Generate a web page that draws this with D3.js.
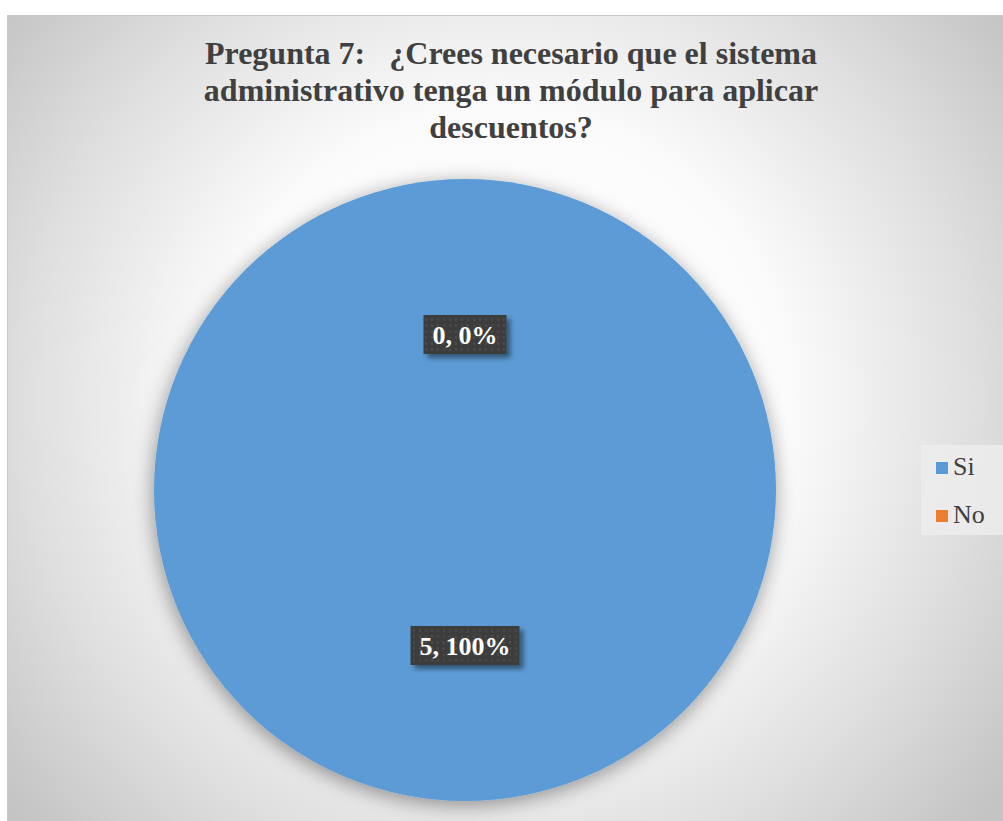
<!DOCTYPE html>
<html>
<head>
<meta charset="utf-8">
<script src="https://cdn.jsdelivr.net/npm/d3@7"></script>
<style>
  html, body { margin: 0; padding: 0; background: #ffffff; }
  svg { display: block; }
</style>
</head>
<body>
<svg id="chart" width="1003" height="821"></svg>
<script>
// Survey answers for question 7
const categories = ["Si", "No"];
const counts = [5, 0];
const colors = ["#5B9BD5", "#ED7D31"];
const titleLines = [
  "Pregunta 7:   ¿Crees necesario que el sistema",
  "administrativo tenga un módulo para aplicar",
  "descuentos?"
];

const svg = d3.select("#chart");
const W = 1003, H = 821;
const defs = svg.append("defs");
const serif = "'Liberation Serif', 'Times New Roman', serif";

// Background: radial gradient, light in the middle and grey toward the corners
const bg = defs.append("radialGradient")
  .attr("id", "bgGrad")
  .attr("gradientUnits", "userSpaceOnUse")
  .attr("cx", 500).attr("cy", 400).attr("r", 640);
bg.append("stop").attr("offset", "0%").attr("stop-color", "#ffffff");
bg.append("stop").attr("offset", "45%").attr("stop-color", "#fbfbfb");
bg.append("stop").attr("offset", "75%").attr("stop-color", "#dedede");
bg.append("stop").attr("offset", "100%").attr("stop-color", "#c3c3c3");

// Soft shadow around the pie
const pieShadow = defs.append("filter").attr("id", "pieShadow")
  .attr("x", "-20%").attr("y", "-20%").attr("width", "140%").attr("height", "140%");
pieShadow.append("feGaussianBlur").attr("in", "SourceAlpha").attr("stdDeviation", 10).attr("result", "b");
pieShadow.append("feOffset").attr("in", "b").attr("dx", -1).attr("dy", 4).attr("result", "o");
pieShadow.append("feComponentTransfer").attr("in", "o").attr("result", "s")
  .append("feFuncA").attr("type", "linear").attr("slope", 0.4);
const pm = pieShadow.append("feMerge");
pm.append("feMergeNode").attr("in", "s");
pm.append("feMergeNode").attr("in", "SourceGraphic");

// Shadow under the data label boxes
const lblShadow = defs.append("filter").attr("id", "lblShadow")
  .attr("x", "-20%").attr("y", "-30%").attr("width", "150%").attr("height", "180%");
lblShadow.append("feGaussianBlur").attr("in", "SourceAlpha").attr("stdDeviation", 2.5).attr("result", "b");
lblShadow.append("feOffset").attr("in", "b").attr("dx", 4).attr("dy", 4).attr("result", "o");
lblShadow.append("feComponentTransfer").attr("in", "o").attr("result", "s")
  .append("feFuncA").attr("type", "linear").attr("slope", 0.45);
const lm = lblShadow.append("feMerge");
lm.append("feMergeNode").attr("in", "s");
lm.append("feMergeNode").attr("in", "SourceGraphic");

// Dotted texture for the label boxes
const dots = defs.append("pattern").attr("id", "dots")
  .attr("patternUnits", "userSpaceOnUse").attr("width", 6).attr("height", 6);
dots.append("rect").attr("width", 6).attr("height", 6).attr("fill", "#3c3c3c");
dots.append("rect").attr("x", 2).attr("y", 2).attr("width", 2).attr("height", 2).attr("fill", "#4d4d4d");

// Chart area
svg.append("rect")
  .attr("x", 7.5).attr("y", 15.5).attr("width", W).attr("height", H)
  .attr("fill", "url(#bgGrad)")
  .attr("stroke", "#c8c8c8").attr("stroke-width", 1);

// Title
const title = svg.append("text")
  .attr("text-anchor", "middle")
  .attr("font-family", serif)
  .attr("font-weight", "bold")
  .attr("font-size", 32)
  .attr("fill", "#404040");
titleLines.forEach((t, i) => {
  title.append("tspan").attr("x", 511).attr("y", 64 + i * 37).attr("xml:space", "preserve").text(t);
});

// Pie
const cx = 465, cy = 490, R = 311;
const data = categories.map((c, i) => ({ cat: c, value: counts[i], color: colors[i] }));
const total = d3.sum(counts);
const pie = d3.pie().sort(null).value(d => d.value);
const arcs = pie(data);
const arc = d3.arc().innerRadius(0).outerRadius(R);

const g = svg.append("g").attr("transform", `translate(${cx},${cy})`);
g.append("g").attr("filter", "url(#pieShadow)")
  .selectAll("path").data(arcs).join("path")
  .attr("d", arc)
  .attr("fill", d => d.data.color);

// Data labels: "value, percent"
const pct = d3.format(".0%");
const labels = g.selectAll("g.lbl").data(arcs).join("g")
  .attr("class", "lbl")
  .attr("transform", d => `translate(${arc.centroid(d)})`);
labels.each(function(d) {
  const sel = d3.select(this);
  const txt = sel.append("text")
    .attr("text-anchor", "middle")
    .attr("dy", "0.35em")
    .attr("font-family", serif)
    .attr("font-weight", "bold")
    .attr("font-size", 26)
    .attr("fill", "#ffffff")
    .text(`${d.data.value}, ${pct(d.data.value / total)}`);
  const bb = txt.node().getBBox();
  const padX = 9, h = 39;
  sel.insert("rect", "text")
    .attr("x", bb.x - padX).attr("y", -h / 2)
    .attr("width", bb.width + 2 * padX).attr("height", h)
    .attr("fill", "url(#dots)")
    .attr("filter", "url(#lblShadow)");
});

// Legend
const legend = svg.append("g");
legend.append("rect")
  .attr("x", 921).attr("y", 445).attr("width", 82).attr("height", 90)
  .attr("fill", "#ededed").attr("opacity", 0.8);
const items = legend.selectAll("g.item").data(data).join("g")
  .attr("class", "item")
  .attr("transform", (d, i) => `translate(936, ${475 + i * 48})`);
items.append("rect")
  .attr("x", 0).attr("y", -13).attr("width", 12).attr("height", 12)
  .attr("fill", d => d.color);
items.append("text")
  .attr("x", 17).attr("y", 0)
  .attr("font-family", serif)
  .attr("font-size", 26)
  .attr("fill", "#404040")
  .text(d => d.cat);
</script>
</body>
</html>
